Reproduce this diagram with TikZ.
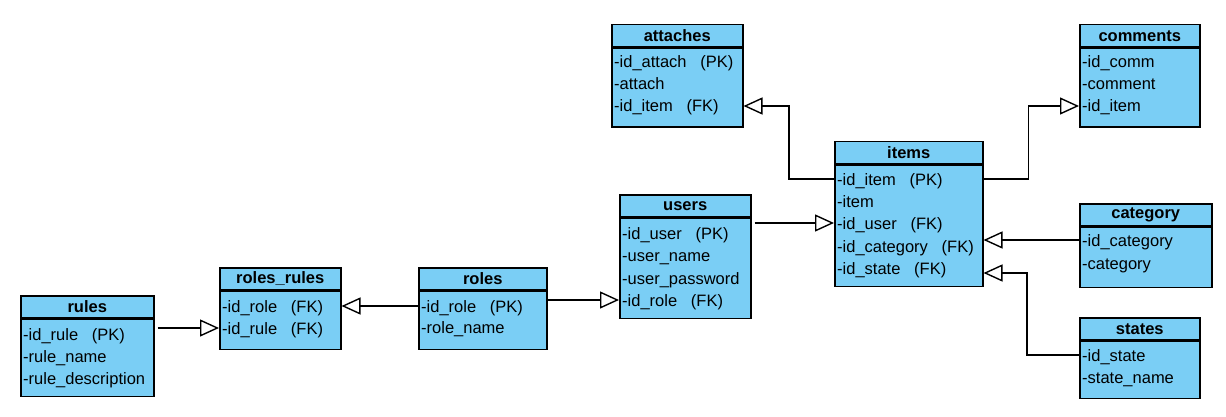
\documentclass[tikz,border=0pt]{standalone}
\usepackage{fontspec}
\setmainfont{Liberation Sans}
\usetikzlibrary{arrows.meta,positioning}
\definecolor{erblue}{RGB}{122,206,245}
\newcommand{\gap}{\ \ \ }

\tikzset{
  tbox/.style={draw=black, fill=erblue, line width=1.5pt, inner sep=0pt, anchor=north west},
  thead/.style={tbox, minimum height=22pt, font=\fontsize{16.5}{19}\selectfont\bfseries},
  fld/.style={anchor=west, inner sep=0pt, text height=14pt, text depth=2pt, font=\fontsize{16.5}{19}\selectfont},
  rel/.style={line width=1.4pt, -{Triangle[open, length=19pt, width=17pt]}}
}

\begin{document}
\begin{tikzpicture}[x=1pt,y=-1pt]
	\useasboundingbox (0,0) rectangle (1226,417);
	% tables
	\node[thead, minimum width=131pt] (attachesT) at (611,24) {attaches};
	\node[tbox, minimum width=131pt, minimum height=79pt] (attaches) at (attachesT.south west) {};
	\node[thead, minimum width=120pt] (commentsT) at (1079,24) {comments};
	\node[tbox, minimum width=120pt, minimum height=79pt] (comments) at (commentsT.south west) {};
	\node[thead, minimum width=148pt] (itemsT) at (834,141) {items};
	\node[tbox, minimum width=148pt, minimum height=121pt] (items) at (itemsT.south west) {};
	\node[thead, minimum width=131pt] (usersT) at (619,194) {users};
	\node[tbox, minimum width=131pt, minimum height=100pt] (users) at (usersT.south west) {};
	\node[thead, minimum width=132pt] (categoryT) at (1079,203) {category};
	\node[tbox, minimum width=132pt, minimum height=60pt] (category) at (categoryT.south west) {};
	\node[thead, minimum width=120pt] (statesT) at (1079,317) {states};
	\node[tbox, minimum width=120pt, minimum height=57pt] (states) at (statesT.south west) {};
	\node[thead, minimum width=133pt] (rulesT) at (20,295) {rules};
	\node[tbox, minimum width=133pt, minimum height=77pt] (rules) at (rulesT.south west) {};
	\node[thead, minimum width=121pt] (rolesrulesT) at (219,267) {roles\_rules};
	\node[tbox, minimum width=121pt, minimum height=58pt] (rolesrules) at (rolesrulesT.south west) {};
	\node[thead, minimum width=128pt] (rolesT) at (418,267) {roles};
	\node[tbox, minimum width=128pt, minimum height=58pt] (roles) at (rolesT.south west) {};

	% fields
	\node[fld] (attaches1) at (614,62) {-id\_attach\gap(PK)};
	\node[fld] (attaches2) at (614,84) {-attach};
	\node[fld] (attaches3) at (614,106) {-id\_item\gap(FK)};
	\node[fld] (comments1) at (1082,62) {-id\_comm};
	\node[fld] (comments2) at (1082,84) {-comment};
	\node[fld] (comments3) at (1082,106) {-id\_item};
	\node[fld] (items1) at (837,179) {-id\_item\gap(PK)};
	\node[fld] (items2) at (837,201) {-item};
	\node[fld] (items3) at (837,223) {-id\_user\gap(FK)};
	\node[fld] (items4) at (837,246) {-id\_category\gap(FK)};
	\node[fld] (items5) at (837,268) {-id\_state\gap(FK)};
	\node[fld] (users1) at (622,233) {-id\_user\gap(PK)};
	\node[fld] (users2) at (622,255) {-user\_name};
	\node[fld] (users3) at (622,278) {-user\_password};
	\node[fld] (users4) at (622,300) {-id\_role\gap(FK)};
	\node[fld] (category1) at (1082,240) {-id\_category};
	\node[fld] (category2) at (1082,263) {-category};
	\node[fld] (states1) at (1082,355) {-id\_state};
	\node[fld] (states2) at (1082,377) {-state\_name};
	\node[fld] (rules1) at (23,334) {-id\_rule\gap(PK)};
	\node[fld] (rules2) at (23,356) {-rule\_name};
	\node[fld] (rules3) at (23,378) {-rule\_description};
	\node[fld] (rolesrules1) at (222,306) {-id\_role\gap(FK)};
	\node[fld] (rolesrules2) at (222,328) {-id\_rule\gap(FK)};
	\node[fld] (roles1) at (421,306) {-id\_role\gap(PK)};
	\node[fld] (roles2) at (421,327) {-role\_name};

	% relations
	\draw[rel] ([xshift=3pt]rules.east |- rolesrules2) -- (rolesrules.west |- rolesrules2);
	\draw[rel] (roles.west |- roles1) -- (rolesrules.east |- roles1);
	\draw[rel] (roles.east |- users4) -- (users.west |- users4);
	\draw[rel] ([xshift=3pt]users.east |- items3) -- (items.west |- items3);
	\draw[rel] (items.west |- items1) -- ++(-45,0) |- (attaches.east |- attaches3);
	\draw[rel] (items.east |- items1) -- ++(45,0) |- (comments.west |- comments3);
	\draw[rel] (category.west |- category1) -- (items.east |- category1);
	\draw[rel] (states.west |- states1) -- ++(-52,0) |- ([yshift=-5pt]items.east |- items5);
\end{tikzpicture}
\end{document}
